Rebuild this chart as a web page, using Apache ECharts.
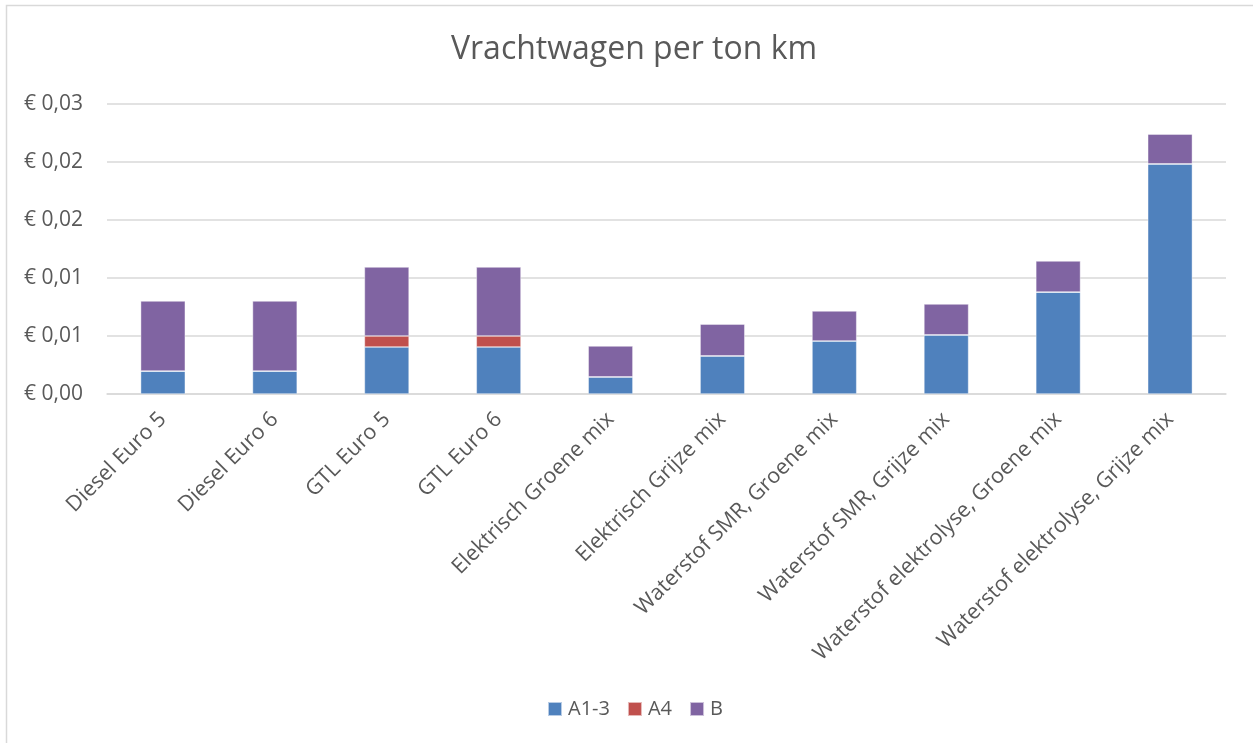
<!DOCTYPE html>
<html>
<head>
<meta charset="utf-8">
<script src="https://cdn.jsdelivr.net/npm/echarts@6/dist/echarts.min.js"></script>
<style>
html,body{margin:0;padding:0;background:#fff;}
#c{width:1253px;height:743px;}
</style>
</head>
<body>
<div id="c"></div>
<script>
const categories = ['Diesel Euro 5','Diesel Euro 6','GTL Euro 5','GTL Euro 6','Elektrisch Groene mix','Elektrisch Grijze mix','Waterstof SMR, Groene mix','Waterstof SMR, Grijze mix','Waterstof elektrolyse, Groene mix','Waterstof elektrolyse, Grijze mix'];
const seriesA13 = [0.00198, 0.00198, 0.00405, 0.00405, 0.00147, 0.00328, 0.00457, 0.00509, 0.00879, 0.01983];
const seriesA4  = [0, 0, 0.00095, 0.00095, 0, 0, 0, 0, 0, 0];
const seriesB   = [0.00604, 0.00604, 0.00595, 0.00595, 0.00267, 0.00275, 0.00259, 0.00267, 0.00268, 0.00258];
const tickLabels = ['€ 0,00','€ 0,01','€ 0,01','€ 0,02','€ 0,02','€ 0,03'];
const tickStep = 0.005;

const font = 'Open Sans, Noto Sans, sans-serif';
const chart = echarts.init(document.getElementById('c'), null, {renderer:'canvas'});
const barStyle = {borderColor:'rgba(255,255,255,0.6)', borderWidth:0.7};
chart.setOption({
  animation:false,
  backgroundColor:'#fff',
  title:{text:'Vrachtwagen per ton km', left:629, top:29, textAlign:'center',
    textStyle:{fontFamily:font, fontSize:32, fontWeight:'normal', color:'#595959'}},
  graphic:[{type:'rect', shape:{x:6.5,y:5.5,width:1300,height:800}, style:{fill:'none', stroke:'#d9d9d9', lineWidth:1.5}, silent:true}],
  legend:{top:694, left:542, itemWidth:14, itemHeight:14, itemGap:17, icon:'rect',
    textStyle:{fontFamily:font, fontSize:20, color:'#595959', padding:[0,0,0,1]},
    data:['A1-3','A4','B']},
  grid:{left:107, right:27, top:104, bottom:349, containLabel:false},
  xAxis:{type:'category', data:categories,
    axisLine:{show:true, lineStyle:{color:'#d9d9d9', width:1.5}},
    axisTick:{show:false},
    axisLabel:{interval:0, rotate:45, margin:22, fontFamily:font, fontSize:21.5, color:'#595959'}},
  yAxis:{type:'value', min:0, max:0.025, interval:tickStep,
    axisLine:{show:false}, axisTick:{show:false},
    splitLine:{lineStyle:{color:'#d9d9d9', width:1.5}},
    axisLabel:{margin:24, fontFamily:font, fontSize:21, color:'#595959',
      formatter:function(v){return tickLabels[Math.round(v/tickStep)];}}},
  series:[
    {name:'A1-3', type:'bar', stack:'t', data:seriesA13, barWidth:'40%', itemStyle:Object.assign({color:'#4F81BD'},barStyle)},
    {name:'A4', type:'bar', stack:'t', data:seriesA4, barWidth:'40%', itemStyle:Object.assign({color:'#C0504D'},barStyle)},
    {name:'B', type:'bar', stack:'t', data:seriesB, barWidth:'40%', itemStyle:Object.assign({color:'#8064A2'},barStyle)}
  ]
});
</script>
</body>
</html>
